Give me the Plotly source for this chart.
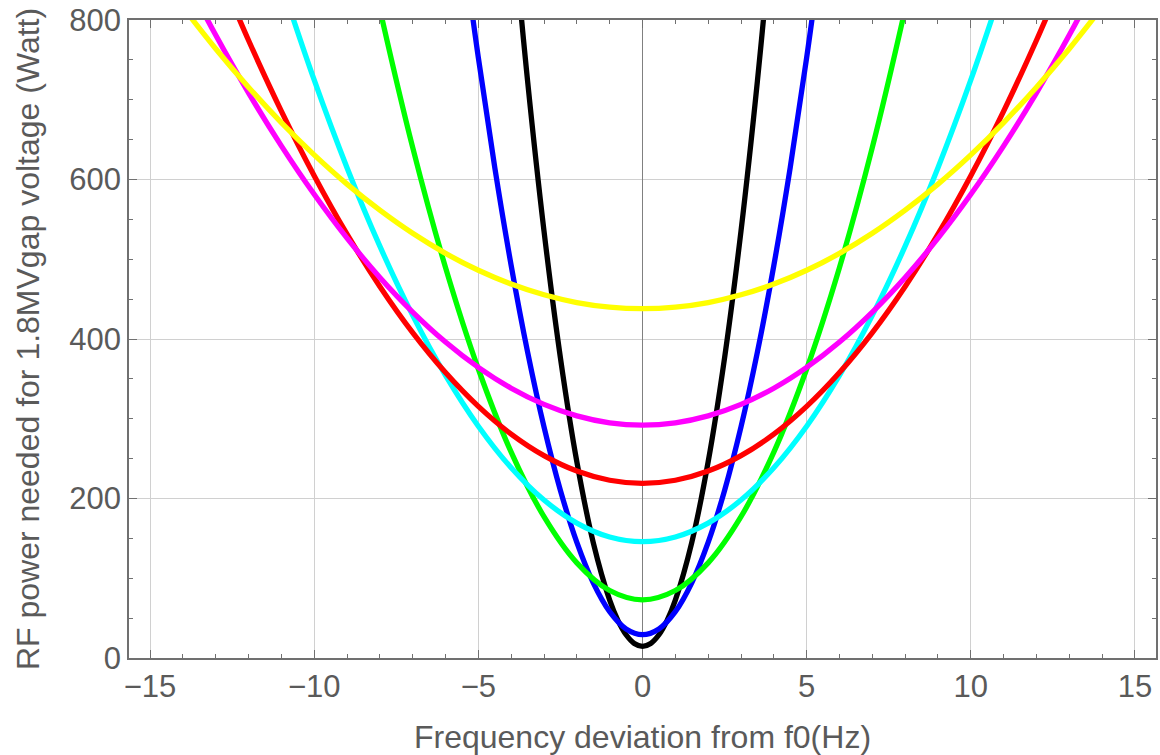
import plotly.graph_objects as go

# ---- data ----
x_black = [-4.0, -3.5, -3.0, -2.5, -2.0, -1.5, -1.0, -0.75, -0.5, -0.25, 0.0,
           0.25, 0.5, 0.75, 1.0, 1.5, 2.0, 2.5, 3.0, 3.5, 4.0]
y_black = [940.7, 723.6, 535.5, 376.4, 246.1, 144.8, 72.5, 47.2, 29.1, 18.2, 14.6,
           18.2, 29.1, 47.2, 72.5, 144.8, 246.1, 376.4, 535.5, 723.6, 940.7]

x_blue = [-5.5, -5.0, -4.5, -4.0, -3.5, -3.0, -2.5, -2.0, -1.5, -1.0, -0.5, 0.0,
          0.5, 1.0, 1.5, 2.0, 2.5, 3.0, 3.5, 4.0, 4.5, 5.0, 5.5]
y_blue = [904.6, 752.7, 615.2, 492.2, 383.7, 289.7, 210.1, 145.0, 94.3, 58.1, 36.4, 29.2,
          36.4, 58.1, 94.3, 145.0, 210.1, 289.7, 383.7, 492.2, 615.2, 752.7, 904.6]

x_green = [-8.5, -8, -7, -6, -5, -4, -3, -2, -1, 0, 1, 2, 3, 4, 5, 6, 7, 8, 8.5]
y_green = [909.3, 813.8, 640.2, 489.7, 362.4, 258.2, 177.2, 119.3, 84.6, 73.0,
           84.6, 119.3, 177.2, 258.2, 362.4, 489.7, 640.2, 813.8, 909.3]

x_cyan = [-11, -10, -9, -8, -7, -6, -5, -4, -3, -2, -1, 0, 1, 2, 3, 4, 5, 6, 7, 8, 9, 10, 11]
y_cyan = [846.3, 724.8, 614.8, 516.4, 429.6, 354.4, 290.7, 238.6, 198.1, 169.2, 151.8, 146.0,
          151.8, 169.2, 198.1, 238.6, 290.7, 354.4, 429.6, 516.4, 614.8, 724.8, 846.3]

x_red = [-13, -12, -11, -10, -9, -8, -7, -6, -5, -4, -3, -2, -1, 0,
         1, 2, 3, 4, 5, 6, 7, 8, 9, 10, 11, 12, 13]
y_red = [871.0, 774.6, 685.8, 604.8, 531.5, 465.9, 408.0, 357.9, 315.5, 280.7, 253.7, 234.4, 222.9, 219.0,
         222.9, 234.4, 253.7, 280.7, 315.5, 357.9, 408.0, 465.9, 531.5, 604.8, 685.8, 774.6, 871.0]

x_magenta = [-14, -13, -12, -11, -10, -9, -8, -7, -6, -5, -4, -3, -2, -1, 0,
             1, 2, 3, 4, 5, 6, 7, 8, 9, 10, 11, 12, 13, 14]
y_magenta = [859.2, 781.1, 708.7, 642.2, 581.4, 526.4, 477.2, 433.8, 396.2, 364.4, 338.3, 318.0, 303.6, 294.9, 292.0,
             294.9, 303.6, 318.0, 338.3, 364.4, 396.2, 433.8, 477.2, 526.4, 581.4, 642.2, 708.7, 781.1, 859.2]

x_yellow = [-14, -13, -12, -11, -10, -9, -8, -7, -6, -5, -4, -3, -2, -1, 0,
            1, 2, 3, 4, 5, 6, 7, 8, 9, 10, 11, 12, 13, 14]
y_yellow = [816.1, 764.0, 715.8, 671.4, 630.9, 594.2, 561.5, 532.5, 507.4, 486.2, 468.9, 455.4, 445.7, 439.9, 438.0,
            439.9, 445.7, 455.4, 468.9, 486.2, 507.4, 532.5, 561.5, 594.2, 630.9, 671.4, 715.8, 764.0, 816.1]

series = [
    (x_black, y_black, "#000000"),
    (x_blue, y_blue, "#0000ff"),
    (x_green, y_green, "#00ff00"),
    (x_cyan, y_cyan, "#00ffff"),
    (x_red, y_red, "#ff0000"),
    (x_magenta, y_magenta, "#ff00ff"),
    (x_yellow, y_yellow, "#ffff00"),
]

x_title = "Frequency deviation from f0(Hz)"
y_title = "RF power needed for 1.8MVgap voltage (Watt)"

fig = go.Figure()
for xs, ys, col in series:
    fig.add_trace(go.Scatter(x=xs, y=ys, mode="lines",
                             line=dict(color=col, width=5.3, shape="spline"),
                             showlegend=False, hoverinfo="skip"))

font_family = "Liberation Sans, Arial, sans-serif"
text_color = "#5a5a5a"

axis_common = dict(
    showline=True, linecolor="#707070", linewidth=1.5, mirror="ticks",
    ticks="inside", ticklen=8, tickwidth=1.3, tickcolor="#707070",
    showgrid=True, gridcolor="#d0d0d0", gridwidth=1,
    tickfont=dict(family=font_family, size=31, color=text_color),
)

fig.update_xaxes(
    range=[-15.64, 15.64], tick0=0, dtick=5,
    zeroline=True, zerolinecolor="#808080", zerolinewidth=1.3,
    minor=dict(dtick=1, ticks="inside", ticklen=4.5, tickwidth=1.2, tickcolor="#707070", showgrid=False),
    title=dict(text=x_title, font=dict(family=font_family, size=32, color=text_color), standoff=24),
    **axis_common,
)
fig.update_yaxes(
    range=[0, 800], tick0=0, dtick=200, zeroline=False,
    minor=dict(dtick=50, ticks="inside", ticklen=4.5, tickwidth=1.2, tickcolor="#707070", showgrid=False),
    title=dict(text=y_title, font=dict(family=font_family, size=32, color=text_color), standoff=20),
    **axis_common,
)

fig.update_layout(
    width=1160, height=755,
    margin=dict(l=129, r=2, t=20, b=97),
    paper_bgcolor="white", plot_bgcolor="white",
    showlegend=False,
)

fig.write_html("out.html")
